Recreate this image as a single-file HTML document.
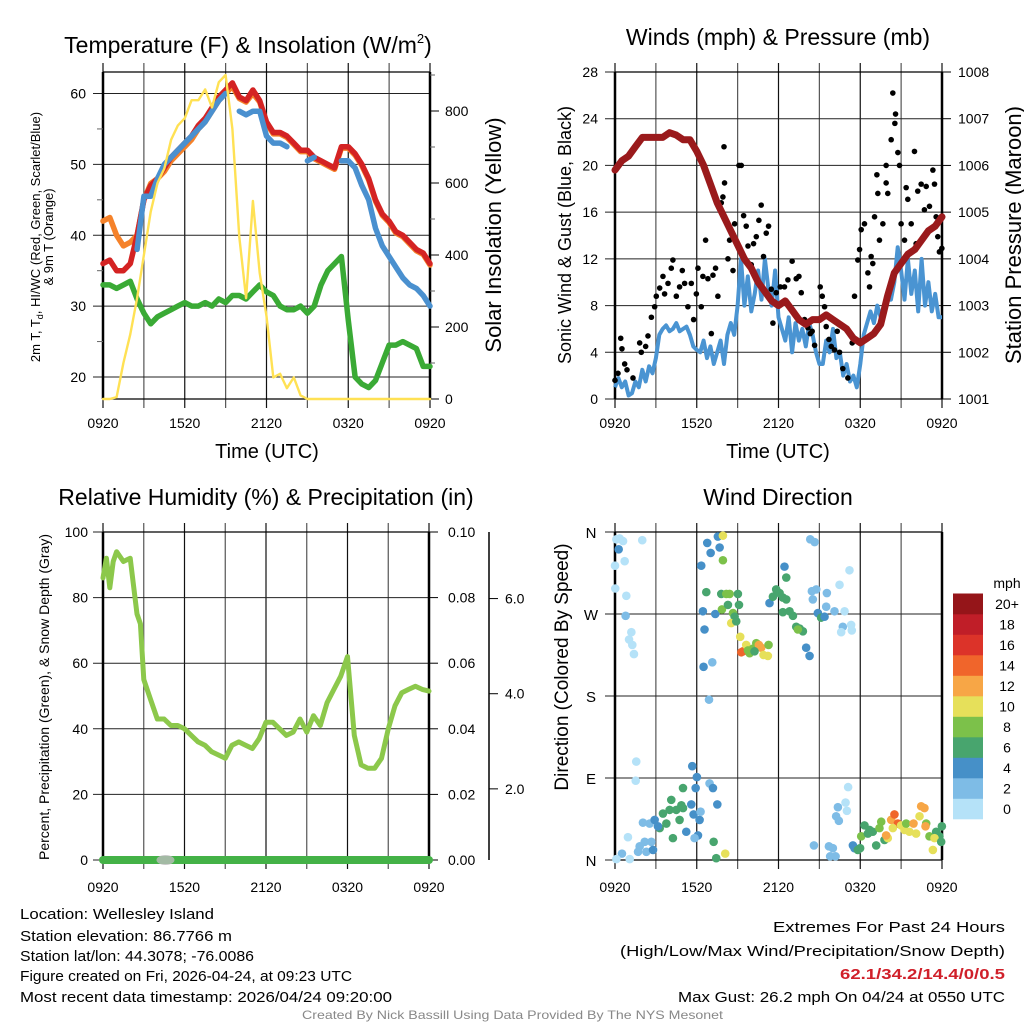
<!DOCTYPE html>
<html><head><meta charset="utf-8"><style>
html,body{margin:0;padding:0;background:#fff}
svg{display:block;font-family:"Liberation Sans",sans-serif}
</style></head><body>
<svg id="c" width="1024" height="1024" viewBox="0 0 1024 1024">
<rect width="1024" height="1024" fill="#fff"/>
<g id="g1"></g>
<g id="g2"></g>
<g id="g3"></g>
<g id="g4"></g>
<g font-size="15" fill="#000">
<text x="20" y="919" textLength="194" lengthAdjust="spacingAndGlyphs">Location: Wellesley Island</text>
<text x="20" y="941" textLength="212" lengthAdjust="spacingAndGlyphs">Station elevation: 86.7766 m</text>
<text x="20" y="961" textLength="234" lengthAdjust="spacingAndGlyphs">Station lat/lon: 44.3078; -76.0086</text>
<text x="20" y="981" textLength="332" lengthAdjust="spacingAndGlyphs">Figure created on Fri, 2026-04-24, at 09:23 UTC</text>
<text x="20" y="1002" textLength="372" lengthAdjust="spacingAndGlyphs">Most recent data timestamp: 2026/04/24 09:20:00</text>
</g>
<g font-size="15" fill="#000">
<text x="773" y="932" textLength="232" lengthAdjust="spacingAndGlyphs">Extremes For Past 24 Hours</text>
<text x="620" y="956" textLength="385" lengthAdjust="spacingAndGlyphs">(High/Low/Max Wind/Precipitation/Snow Depth)</text>
<text x="840" y="979" textLength="165" lengthAdjust="spacingAndGlyphs" fill="#d0202a" font-weight="bold">62.1/34.2/14.4/0/0.5</text>
<text x="678" y="1002" textLength="327" lengthAdjust="spacingAndGlyphs">Max Gust: 26.2 mph On 04/24 at 0550 UTC</text>
</g>
<text x="302" y="1019" font-size="12" fill="#888" textLength="421" lengthAdjust="spacingAndGlyphs">Created By Nick Bassill Using Data Provided By The NYS Mesonet</text>
</svg>
<script>
// ---- Panel 1 data (hours after 09:20 UTC) ----
const tHours=[0,0.5,1,1.5,2,2.5,3,3.5,4,4.5,5,5.5,6,6.5,7,7.5,8,8.5,9,9.5,10,10.5,11,11.5,12,12.5,13,13.5,14,14.5,15,15.5,16,16.5,17,17.5,18,18.5,19,19.5,20,20.5,21,21.5,22,22.5,23,23.5,24];
const tempRed=[36,36.5,35,35,36,40,45,47,48,49.5,51,52,53,54,55.5,56.5,58,59.5,60.5,61.5,59.5,59,60.5,59,56,54.5,54.5,54,53,52,52,51,50.5,50,49.5,52.5,52.5,51.5,50,48,45,43,42,40.5,40,39,38,37.5,36];
const temp9mOrange=[42,42.5,40,38.5,39,40,45,47.3,48,49,50.5,51.5,52.5,53.5,55,56,57.5,59,60,61,59.3,58.8,60,58.8,55.8,54.3,54.3,53.8,52.8,51.8,51.8,50.8,50.3,49.8,49.3,52.3,52.3,51.3,49.8,47.8,44.8,42.8,41.8,40.3,39.8,38.8,37.8,37.3,35.8];
const hiwcBlue=[null,null,null,null,null,38,45.5,45.5,48,50,51,52,53,54,55,56,57.5,59,60,null,57.5,57,57.5,57.5,54,53,53,52.5,null,null,50.5,51,null,null,null,50.5,50.5,49.5,47,45,41,38.5,37,35.5,34,33,32.5,31.5,30];
const dewGreen=[33,33,32.5,33,33.5,31,29,27.5,28.5,29,29.5,30,30.5,30,30,30.5,30,31,30.5,31.5,31.5,31,32,33,32,31.5,30,29.5,29.5,30,29,30,33,35,36,37,28,20,19,18.5,19.5,22,24.5,24.5,25,24.5,24,21.5,21.5];
const solarYellow=[0,0,5,100,180,280,400,520,600,640,720,760,780,830,830,860,810,880,900,750,450,280,550,350,230,60,70,30,60,10,0,0,0,0,0,0,0,0,0,0,0,0,0,0,0,0,0,0,0];
const p1LeftTicks=[20,30,40,50,60];
const p1RightTicks=[0,200,400,600,800];
const timeLabels=["0920","1520","2120","0320","0920"];
// ---- Panel 2 data ----
const pressure=[1005.9,1006.1,1006.2,1006.4,1006.6,1006.6,1006.6,1006.6,1006.7,1006.65,1006.55,1006.55,1006.3,1006.0,1005.6,1005.2,1004.9,1004.6,1004.3,1004.0,1003.8,1003.5,1003.3,1003.1,1003.0,1003.1,1002.9,1002.7,1002.6,1002.7,1002.7,1002.8,1002.7,1002.6,1002.5,1002.3,1002.2,1002.3,1002.4,1002.6,1003.2,1003.7,1003.9,1004.1,1004.2,1004.4,1004.6,1004.7,1004.9];
const windBlue=[1,1.8,1,1.5,0.3,0.5,1.5,1,2.5,1.5,2.8,2.2,3.5,
5.5,6,6.3,5.8,6,6.5,5.8,6,6.2,5.5,4.5,4.2,
4,5,3.5,4.5,3,4,5,3,5.5,6.5,5.5,8,
12,8,10.5,7.5,9,11,8.5,12,9.5,8,11,7,
6,5,7,4,6.5,5,6,4.5,6.5,5.5,4,3,
3,5,4,6,3.5,4,2,3,1.5,2,1,3,
5.5,6.5,7.5,6.5,8,7,8,9,8.5,10,13,11,
8.5,12,9,11,7.5,12,8,10,7.5,9,7,7];
const gustHours=[0,0.22,0.42,0.51,0.71,0.88,1.32,1.81,1.93,2.25,2.42,2.67,2.91,3.03,3.28,3.52,3.64,3.89,4.13,4.25,4.5,4.74,4.94,5.11,5.35,5.6,5.77,5.97,6.09,6.33,6.45,6.65,6.82,7.07,7.19,7.38,7.55,7.8,7.92,8.04,8.0,8.29,8.41,8.66,8.78,9.1,9.27,9.44,9.63,9.76,10.0,10.17,10.37,10.56,10.73,10.9,11.1,11.27,11.47,11.59,11.83,12.13,12.44,12.69,13.0,13.3,13.5,13.67,13.91,14.16,14.33,14.47,14.65,15.06,15.21,15.38,15.5,15.7,15.87,16.11,16.31,16.48,16.72,17.09,17.41,17.58,17.82,17.95,18.07,18.31,18.56,18.68,18.8,18.92,19.05,19.22,19.29,19.41,19.66,19.9,20.02,19.9,20.27,20.39,20.59,20.54,20.76,20.88,21.0,21.25,21.37,21.49,21.74,21.98,22.1,22.22,22.47,22.71,22.84,23.08,23.33,23.45,23.57,23.69,23.81,23.99];
const gustMph=[1.6,2.2,5.2,4.3,3.0,2.5,1.8,4.8,4.0,4.5,5.4,7.0,7.9,8.8,9.5,10.5,9.0,9.9,11.2,11.9,8.8,9.6,11.0,9.9,7.9,9.9,6.8,9.0,11.2,7.9,10.5,13.6,10.3,5.6,10.6,11.2,8.8,16.8,17.3,18.5,21.6,12.0,13.6,11.0,15.0,20.0,20.0,15.7,14.8,13.1,11.5,13.3,13.9,15.3,16.6,12.2,14.2,14.8,9.4,6.5,9.1,9.6,9.6,10.2,11.8,10.3,10.5,9.1,6.8,6.1,5.6,5.8,4.6,9.6,8.8,7.9,6.2,5.1,4.5,4.2,5.8,4.0,2.6,1.8,4.8,8.8,11.9,12.8,14.5,15.0,10.8,9.6,12.2,11.6,15.6,19.2,17.6,13.6,15.0,18.5,17.6,20.0,22.2,26.2,24.4,23.6,21.1,20.0,15.0,13.6,18.1,17.1,15.0,21.2,13.3,17.8,18.4,16.2,18.2,16.5,19.6,18.4,15.6,13.9,12.6,12.9];
const p2LeftTicks=[0,4,8,12,16,20,24,28];
const p2RightTicks=[1001,1002,1003,1004,1005,1006,1007,1008];
// ---- Panel 3 data ----
const rhHours=[0,0.25,0.5,0.75,1,1.5,2,2.5,2.75,3,3.5,4,4.5,5,5.5,6,6.5,7,7.5,8,8.5,9,9.5,10,10.5,11,11.5,12,12.5,13,13.5,14,14.5,15,15.5,16,16.5,17,17.5,18,18.5,19,19.5,20,20.5,21,21.5,22,22.5,23,23.5,24];
const rhValues=[86,92,83,91,94,91,92,75,72,55,49,43,43,41,41,40,38,36,35,33,32,31,35,36,35,34,37,42,42,40,38,39,43,39,44,41,48,52,56,62,38,29,28,28,31,40,47,51,52,53,52,51.5,55];
const precipHours=[0,24];
const precipIn=[0,0];
const p3LeftTicks=[0,20,40,60,80,100];
const p3RightTicks=["0.00","0.02","0.04","0.06","0.08","0.10"];
const snowTicks=["2.0","4.0","6.0"];
// ---- Panel 4 data ----
const dirHours=[0.34,0.59,2.0,0.27,0.1,0.71,0,0.02,0.83,0.78,1.2,1.03,1.27,1.39,1.56,1.52,0.95,0.51,0.1,1.08,2.05,2.54,1.81,2.18,2.67,1.69,2.3,2.79,
3.52,4.01,4.5,4.99,3.77,4.25,3.28,4.74,5.23,4.99,4.13,4.87,3.15,2.91,5.67,6.01,5.92,5.6,5.77,6.21,6.09,5.84,6.28,6.94,7.19,7.51,7.24,8.09,7.43,6.9,6.5,7.14,
6.33,6.77,7.02,7.55,7.68,7.92,7.92,6.7,6.45,6.57,7.36,7.85,7.8,8.17,8.41,8.29,8.66,8.78,9.02,9.1,8.53,8.9,9.19,9.27,9.39,9.63,9.88,10.12,10.37,10.56,10.73,10.9,11.22,11.27,9.76,10.24,
11.34,11.59,11.83,12.08,12.32,12.57,12.44,12.57,12.32,12.81,13.06,13.3,13.55,13.79,13.42,14.03,14.28,14.33,14.65,14.45,14.77,14.52,14.89,15.13,15.38,15.55,15.5,16.11,16.48,16.85,17.21,16.72,16.6,17.33,17.38,
14.6,15.7,15.99,15.79,16.19,16.36,16.23,16.43,16.92,17.02,17.11,17.46,17.58,17.82,17.99,18.31,18.68,18.92,19.17,19.41,19.54,19.78,20.02,19.9,20.27,20.51,20.76,20.39,21.0,21.25,21.37,21.61,21.91,22.1,22.47,22.71,22.84,22.79,23.08,23.33,23.57,23.81,23.99,23.45,23.94,22.35,18.07,18.56];
const dirDeg=[353,350,351,341,352,328,323,298,290,268,250,242,236,226,108,87,25,7,1,1,41,40,15,20,20,9,9,11,
51,55,55,57,40,24,35,44,31,79,66,60,37,44,103,91,79,61,50,44,27,24,53,84,79,61,20,7,2,176,212,217,
323,348,337,355,343,356,329,294,273,253,270,275,292,292,292,280,271,267,292,280,260,262,245,228,229,236,227,232,238,236,233,225,224,236,230,229,
282,289,297,293,288,286,322,310,272,273,268,256,254,251,253,233,224,352,349,295,297,286,271,266,267,293,278,273,302,273,318,256,250,258,252,
16,15,13,4,4,58,48,43,63,54,80,16,13,11,13,38,33,31,16,35,42,22,24,27,44,50,40,35,38,33,40,31,40,29,59,57,40,37,26,11,31,26,37,24,20,48,26,29];
const dirSpeed=[1,1,1,5,1,1,1,1,1,3,1,1,1,1,1,1,1,3,1,1,3,3,3,3,3,3,3,5,
7,7,7,7,7,7,7,7,5,7,7,7,5,5,5,5,5,5,5,5,5,3,3,3,5,5,7,11,7,3,5,3,
5,5,5,5,5,11,9,7,5,5,5,9,7,9,9,7,9,7,7,7,11,7,11,15,15,11,9,9,9,13,13,11,11,9,9,7,
5,7,7,7,7,7,5,7,7,7,7,7,7,7,9,5,5,3,3,3,3,3,5,7,5,3,3,3,1,1,1,3,1,1,1,
3,3,3,3,3,3,3,3,1,1,1,5,5,7,7,7,7,7,7,9,9,7,11,13,13,15,15,11,11,11,9,11,13,11,13,13,9,13,9,11,7,7,7,11,7,11,9,7];
const speedLabels=["0","2","4","6","8","10","12","14","16","18","20+"];
const speedColors=["#b5e2f8","#7ebce6","#4690c8","#48a56e","#7cc14a","#e6e05a","#f7a646","#f0652b","#dc3329","#c01e28","#951519"];
const dirTickLabels=["N","E","S","W","N"];

const windHours=[];
for(let i=0;i<windBlue.length;i++){windHours.push(i*24/(windBlue.length-1));}

const NS="http://www.w3.org/2000/svg";
function mk(parent,tag,attrs,text){const e=document.createElementNS(NS,tag);for(const k in attrs)e.setAttribute(k,attrs[k]);if(text!==undefined)e.textContent=text;parent.appendChild(e);return e;}
function lin(d0,d1,r0,r1){return v=>r0+(v-d0)*(r1-r0)/(d1-d0);}
function pathFrom(xs,ys,fx,fy){let d="",pen=false;for(let i=0;i<xs.length;i++){if(ys[i]===null||ys[i]===undefined){pen=false;continue;}d+=(pen?"L":"M")+fx(xs[i]).toFixed(1)+","+fy(ys[i]).toFixed(1);pen=true;}return d;}

function frame(g,x0,x1,y0,y1,fx,hGridYs){
  for(let h=0;h<=24;h+=3){
    const x=fx(h);
    const l=mk(g,"line",{x1:x,x2:x,y1:y0-9,y2:y1+9,stroke:(h%6===0)?"#111":"#555","stroke-width":1.2});
    
    
  }
  hGridYs.forEach(y=>{
    const l=mk(g,"line",{x1:x0-10,x2:x1,y1:y,y2:y,stroke:"#222","stroke-width":1});
    
    
  });
  mk(g,"line",{x1:x0,x2:x1,y1:y0,y2:y0,stroke:"#000","stroke-width":1.2});
  mk(g,"line",{x1:x0,x2:x1,y1:y1,y2:y1,stroke:"#000","stroke-width":1.2});
  mk(g,"line",{x1:x0,x2:x0,y1:y0,y2:y1,stroke:"#000","stroke-width":2.5});
  mk(g,"line",{x1:x1,x2:x1,y1:y0,y2:y1,stroke:"#000","stroke-width":2.5});
}
function xLabels(g,fx,y){
  timeLabels.forEach((t,i)=>{
    const e=mk(g,"text",{x:fx(i*6),y:y,"font-size":14,"text-anchor":"middle"},t);
    
    
  });
}
function label(g,txt,x,y,size,rot,name,anchor){
  const e=mk(g,"text",{x:x,y:y,"font-size":size,"text-anchor":anchor||"middle",transform:rot?`rotate(${rot} ${x} ${y})`:""},txt);
  
  
  return e;
}

// ===== Panel 1 =====
(function(){
  const g=document.getElementById("g1");
  const X0=103,X1=430,Y0=72,Y1=399;
  const fx=lin(0,24,X0,X1), fy=lin(20,60,377,93.5), fs=lin(0,800,399,111);
  frame(g,X0,X1,Y0,Y1,fx,p1LeftTicks.map(fy));
  p1LeftTicks.forEach(v=>label(g,String(v),86,fy(v)+5,14,0,"temp-tick-label","end"));
  p1RightTicks.forEach(v=>{mk(g,"line",{x1:X1,x2:X1+9,y1:fs(v),y2:fs(v),stroke:"#000"});label(g,String(v),445,fs(v)+5,14,0,"solar-tick-label","start");});
  for(let v=100;v<=900;v+=200){mk(g,"line",{x1:X1,x2:X1+5,y1:fs(v),y2:fs(v),stroke:"#666"});}
  for(let v=25;v<=55;v+=10){mk(g,"line",{x1:X0-6,x2:X0,y1:fy(v),y2:fy(v),stroke:"#666"});}
  const series=[["dewpoint-line",dewGreen,fy,"#3aaa35",5.5],["temp-9m-line",temp9mOrange,fy,"#f5822a",5.5],["temp-2m-line",tempRed,fy,"#d42323",5.5],["heat-index-windchill-line",hiwcBlue,fy,"#4a90cf",5.5],["solar-insolation-line",solarYellow,fs,"#ffe154",2.4]];
  series.forEach(s=>{
    const p=mk(g,"path",{d:pathFrom(tHours,s[1],fx,s[2]),fill:"none",stroke:s[3],"stroke-width":s[4],"stroke-linejoin":"round","stroke-linecap":"round"});
    
    
  });
  xLabels(g,fx,428);
  const t=label(g,"Temperature (F) & Insolation (W/m",248,53,23,0,"temp-panel-title");
  mk(t,"tspan",{"font-size":13,dy:-10},"2");
  mk(t,"tspan",{dy:10},")");
  label(g,"Time (UTC)",267,458,20,0,"temp-x-axis-title");
  const yl=label(g,"2m T, T",40,237,13,-90,"temp-y-axis-title");
  mk(yl,"tspan",{"font-size":9,dy:3},"d");
  mk(yl,"tspan",{dy:-3},", HI/WC (Red, Green, Scarlet/Blue)");
  label(g,"& 9m T (Orange)",53,237,13,-90,"temp-y-axis-title-line2");
  label(g,"Solar Insolation (Yellow)",501,235,22,-90,"solar-y-axis-title");
})();

// ===== Panel 2 =====
(function(){
  const g=document.getElementById("g2");
  const X0=615,X1=942,Y0=72,Y1=399;
  const fx=lin(0,24,X0,X1), fy=lin(0,28,399,72), fp=lin(1001,1008,399,72);
  frame(g,X0,X1,Y0,Y1,fx,p2LeftTicks.map(fy));
  p2LeftTicks.forEach(v=>label(g,String(v),598,fy(v)+5,14,0,"wind-tick-label","end"));
  p2RightTicks.forEach(v=>{mk(g,"line",{x1:X1,x2:X1+9,y1:fp(v),y2:fp(v),stroke:"#000"});label(g,String(v),958,fp(v)+5,14,0,"pressure-tick-label","start");});
  const pw=mk(g,"path",{d:pathFrom(windHours,windBlue,fx,fy),fill:"none",stroke:"#4a94d2","stroke-width":4,"stroke-linejoin":"round"});
  
  
  gustHours.forEach((h,i)=>{
    const c=mk(g,"circle",{cx:fx(h),cy:fy(gustMph[i]),r:2.8,fill:"#000"});
    
    
  });
  const pp=mk(g,"path",{d:pathFrom(tHours,pressure,fx,fp),fill:"none",stroke:"#9a1a1c","stroke-width":7,"stroke-linejoin":"round","stroke-linecap":"round"});
  
  
  xLabels(g,fx,428);
  label(g,"Winds (mph) & Pressure (mb)",778,45,23,0,"winds-panel-title");
  label(g,"Time (UTC)",778,458,20,0,"winds-x-axis-title");
  label(g,"Sonic Wind & Gust (Blue, Black)",571,235,18,-90,"wind-y-axis-title");
  label(g,"Station Pressure (Maroon)",1021,235,22,-90,"pressure-y-axis-title");
})();

// ===== Panel 3 =====
(function(){
  const g=document.getElementById("g3");
  const X0=103,X1=429,Y0=532,Y1=860;
  const fx=lin(0,24,X0,X1), fy=lin(0,100,860,532), fpr=lin(0,0.1,860,532);
  frame(g,X0,X1,Y0,Y1,fx,p3LeftTicks.map(fy));
  p3LeftTicks.forEach(v=>label(g,String(v),88,fy(v)+5,14,0,"rh-tick-label","end"));
  p3RightTicks.forEach((t,i)=>{const y=fy(i*20);mk(g,"line",{x1:X1,x2:X1+9,y1:y,y2:y,stroke:"#000"});label(g,t,448,y+5,14,0,"precip-tick-label","start");});
  mk(g,"line",{x1:489,x2:489,y1:532,y2:860,stroke:"#000","stroke-width":1.5});
  const fsn=lin(0,7,884,551);
  snowTicks.forEach(t=>{const y=fsn(parseFloat(t));mk(g,"line",{x1:489,x2:498,y1:y,y2:y,stroke:"#000"});label(g,t,505,y+5,14,0,"snow-tick-label","start");});
  const rp=mk(g,"path",{d:pathFrom(rhHours,rhValues,fx,fy),fill:"none",stroke:"#8cc84b","stroke-width":5,"stroke-linejoin":"round","stroke-linecap":"round"});
  
  
  const pr=mk(g,"path",{d:pathFrom(precipHours,precipIn,fx,fpr),fill:"none",stroke:"#44b247","stroke-width":8,"stroke-linecap":"round"});
  
  
  const sn=mk(g,"ellipse",{cx:fx(4.6),cy:860,rx:9,ry:5,fill:"#bbb","fill-opacity":0.8});
  
  
  xLabels(g,fx,892);
  label(g,"Relative Humidity (%) & Precipitation (in)",266,505,23,0,"humidity-panel-title");
  label(g,"Percent, Precipitation (Green), & Snow Depth (Gray)",49,697,14,-90,"humidity-y-axis-title");
})();

// ===== Panel 4 =====
(function(){
  const g=document.getElementById("g4");
  const X0=615,X1=942,Y0=532,Y1=860;
  const fx=lin(0,24,X0,X1), fy=lin(0,360,860,532);
  frame(g,X0,X1,Y0,Y1,fx,[0,90,180,270,360].map(fy));
  dirTickLabels.forEach((t,i)=>label(g,t,591,fy(i*90)+6,15,0,"direction-tick-label"));
  dirHours.forEach((h,i)=>{
    const bin=Math.min(10,Math.floor(dirSpeed[i]/2));
    const c=mk(g,"circle",{cx:fx(h),cy:fy(dirDeg[i]),r:4.3,fill:speedColors[bin]});
    
    
  });
  const bh=20.5;
  speedLabels.forEach((t,i)=>{
    const y=819-(i+1)*bh;
    const r=mk(g,"rect",{x:953,y:y,width:30,height:bh+0.3,fill:speedColors[i]});
    
    
    label(g,t,1007,y+bh/2+5,14,0,"colorbar-label");
  });
  label(g,"mph",1007,588,14,0,"colorbar-title");
  xLabels(g,fx,892);
  label(g,"Wind Direction",778,505,23,0,"wind-direction-title");
  label(g,"Direction (Colored By Speed)",568,667,19,-90,"direction-y-axis-title");
})();
</script>
</body></html>
